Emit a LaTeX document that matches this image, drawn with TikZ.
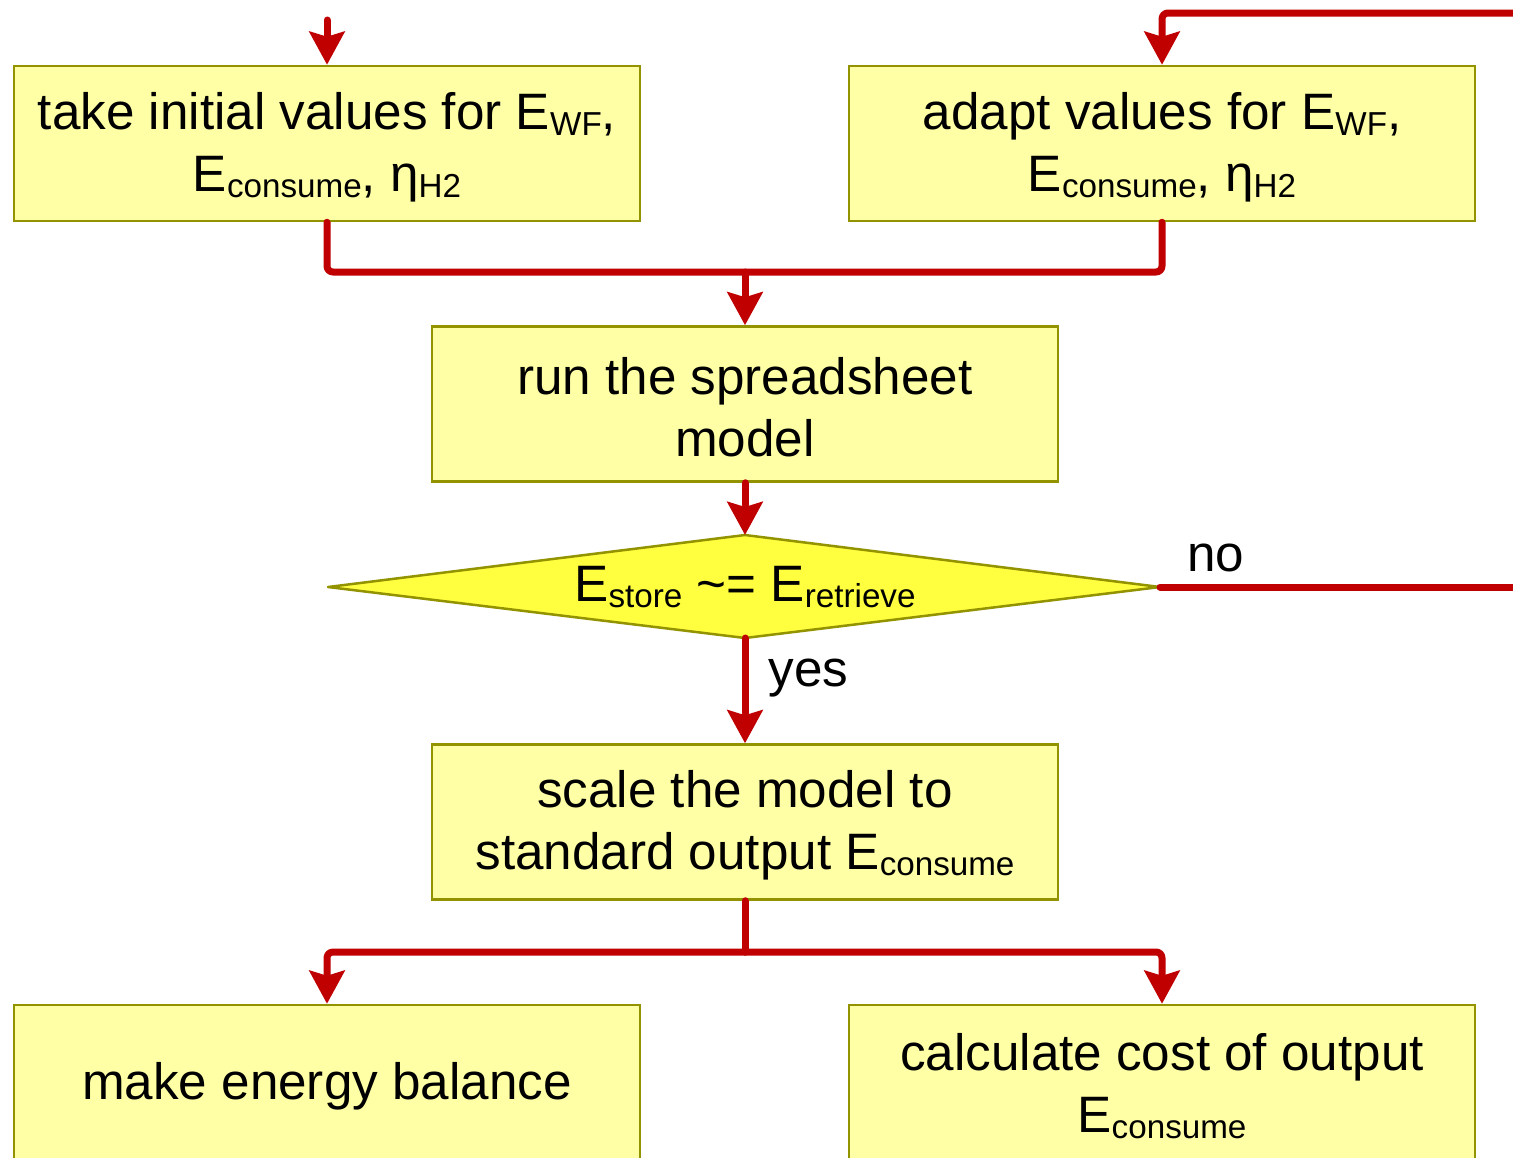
\documentclass[tikz,border=0pt]{standalone}
\usepackage{fontspec}
\setmainfont{Liberation Sans}
\usetikzlibrary{arrows.meta}
\definecolor{redl}{HTML}{C00000}
\definecolor{boxfill}{HTML}{FFFFA6}
\definecolor{boxline}{HTML}{939300}
\definecolor{decfill}{HTML}{FFFF40}
\newcommand{\sbs}[1]{\raisebox{-3pt}{\fontsize{16.6}{18}\selectfont #1}}
\newcommand{\topst}{\rule{0pt}{22pt}}
\begin{document}
\begin{tikzpicture}[x=0.5pt,y=-0.5pt,
  txt/.style={font=\fontsize{25.6}{31}\selectfont, text=black, align=center},
  stepbox/.style={txt, draw=boxline, fill=boxfill, line width=1.25pt,
    minimum width=313pt, minimum height=77.5pt, inner sep=0pt},
  link/.style={draw=redl, line width=3.5pt, line cap=round, line join=round, rounded corners=3pt},
  arr/.style={link, -{Stealth[length=16.5pt,width=17.5pt,inset=2.5pt]}}
]
\useasboundingbox (0,0) rectangle (1513,1157);

\node[stepbox] (b1) at (327,143.5) {\topst take initial values for E\sbs{WF},\\E\sbs{consume}, η\sbs{H2}};
\node[stepbox] (b2) at (1162,143.5) {\topst adapt values for E\sbs{WF},\\E\sbs{consume}, η\sbs{H2}};
\node[stepbox] (b3) at (745,404) {\topst run the spreadsheet\\model};
\node[stepbox] (b4) at (745,822) {\topst scale the model to\\standard output E\sbs{consume}};
\node[stepbox] (b5) at (327,1082.5) {\topst make energy balance};
\node[stepbox] (b6) at (1162,1082.5) {\topst calculate cost of output\\E\sbs{consume}};

% decision diamond
\coordinate (dl) at (328,587);
\coordinate (dr) at (1160,587);
\coordinate (dt) at (745,535);
\coordinate (db) at (745,638);
\draw[draw=boxline, fill=decfill, line width=1.25pt, line join=round] (dl) -- (dt) -- (dr) -- (db) -- cycle;
\node[txt] (dtxt) at (745,587) {E\sbs{store} \textasciitilde= E\sbs{retrieve}};

% connectors
\coordinate (inL) at (327,20);
\coordinate (inR) at (1513,13);
\coordinate (cR) at (1162,13);
\coordinate (outR) at (1513,587);
\coordinate (j1) at (745,272);
\coordinate (j2) at (745,952);

\draw[arr] (inL) -- (b1.north);
\draw[arr] (inR) -- (cR) -- (b2.north);
\draw[link] (b1.south) |- (j1) -| (b2.south);
\draw[arr] (j1) -- (b3.north);
\draw[arr] (b3.south) -- (dt);
\draw[arr] (db) -- (b4.north);
\draw[link] (dr) -- (outR);
\draw[link] (b4.south) -- (j2);
\draw[arr] (j2) -| (b5.north);
\draw[arr] (j2) -| (b6.north);

\node[txt, anchor=base west, inner sep=0pt] (yes) at (768,686) {yes};
\node[txt, anchor=base west, inner sep=0pt] (no) at (1187,571) {no};
\end{tikzpicture}
\end{document}
